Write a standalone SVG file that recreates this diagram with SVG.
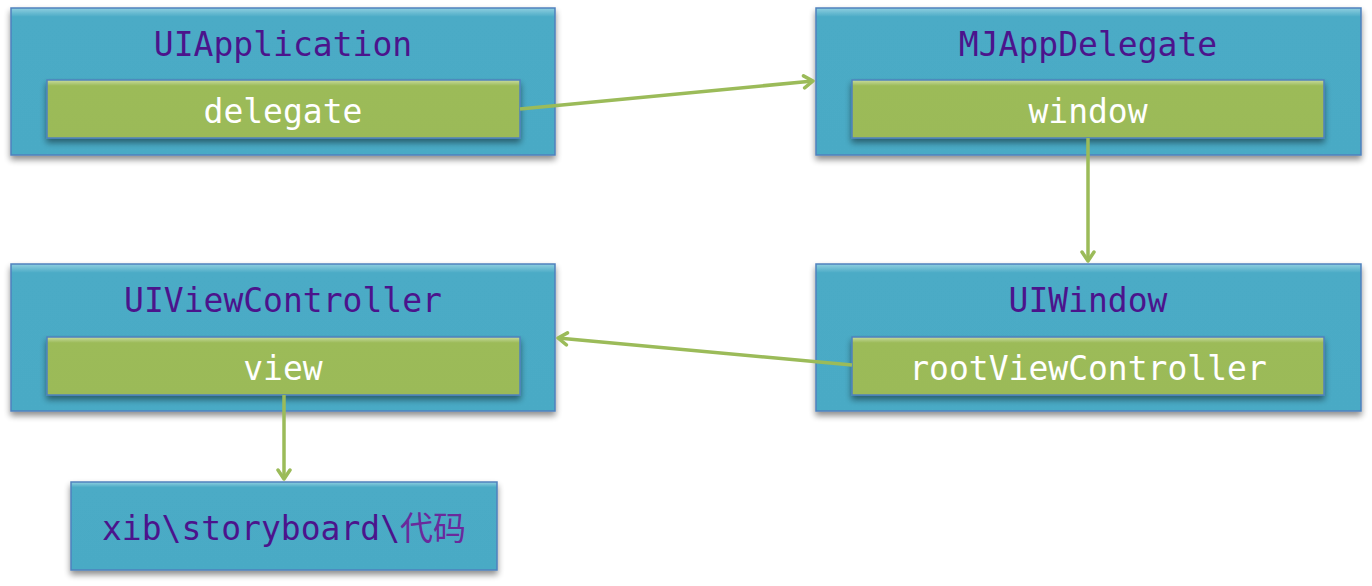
<svg xmlns="http://www.w3.org/2000/svg" width="1372" height="586" viewBox="0 0 1372 586">
<defs>
<linearGradient id="gOuter" x1="0" y1="0" x2="0" y2="1">
<stop offset="0" stop-color="#8fcfe0"/><stop offset="0.06" stop-color="#4babc6"/><stop offset="1" stop-color="#4aaac5"/>
</linearGradient>
<linearGradient id="gInner" x1="0" y1="0" x2="0" y2="1">
<stop offset="0" stop-color="#c9dca0"/><stop offset="0.1" stop-color="#9cbb59"/><stop offset="1" stop-color="#9bba58"/>
</linearGradient>
<filter id="sh" x="-5%" y="-10%" width="110%" height="130%">
<feGaussianBlur in="SourceAlpha" stdDeviation="3"/>
<feOffset dx="0" dy="4" result="b"/>
<feComponentTransfer><feFuncA type="linear" slope="0.45"/></feComponentTransfer>
<feMerge><feMergeNode/><feMergeNode in="SourceGraphic"/></feMerge>
</filter>
<marker id="arr" markerWidth="16" markerHeight="16" refX="13" refY="8" orient="auto" markerUnits="userSpaceOnUse" viewBox="0 0 16 16">
<path d="M4,2 L13,8 L4,14" fill="none" stroke="#9bbb59" stroke-width="3.5" stroke-linecap="round" stroke-linejoin="round"/>
</marker>
</defs>
<style>
.outer{fill:url(#gOuter);stroke:#4f81bd;stroke-width:1.5;filter:url(#sh)}
.inner{fill:url(#gInner);stroke:#4f81bd;stroke-width:1.5;filter:url(#sh)}
.title{font-family:"DejaVu Sans Mono","Noto Sans CJK SC",monospace;font-size:33px;fill:#4b148c;text-anchor:middle}
.field{font-family:"DejaVu Sans Mono",monospace;font-size:33px;fill:#ffffff;text-anchor:middle}
.conn{stroke:#9bbb59;stroke-width:3.5;fill:none;marker-end:url(#arr)}
</style>
<rect width="1372" height="586" fill="#ffffff"/>
<g id="node-uiapplication">
<rect class="outer" x="11" y="8" width="544" height="147"/>
<text class="title" x="283" y="56">UIApplication</text>
<rect class="inner" x="47" y="80" width="473" height="58"/>
<text class="field" x="283" y="123">delegate</text>
</g>
<g id="node-mjappdelegate">
<rect class="outer" x="816" y="8" width="545" height="147"/>
<text class="title" x="1088" y="56">MJAppDelegate</text>
<rect class="inner" x="852" y="80" width="472" height="58"/>
<text class="field" x="1088" y="123">window</text>
</g>
<g id="node-uiviewcontroller">
<rect class="outer" x="11" y="264" width="544" height="147"/>
<text class="title" x="283" y="312">UIViewController</text>
<rect class="inner" x="47" y="337" width="473" height="58"/>
<text class="field" x="283" y="380">view</text>
</g>
<g id="node-uiwindow">
<rect class="outer" x="816" y="264" width="545" height="147"/>
<text class="title" x="1088" y="312">UIWindow</text>
<rect class="inner" x="852" y="337" width="472" height="58"/>
<text class="field" x="1088" y="380">rootViewController</text>
</g>
<g id="node-xib">
<rect class="outer" x="71" y="482" width="426" height="88"/>
<text class="title" x="284" y="540">xib\storyboard\<tspan fill="#6a2a9c">代码</tspan></text>
</g>
<g id="connectors">
<line class="conn" x1="520" y1="109" x2="813" y2="81"/>
<line class="conn" x1="1088" y1="138" x2="1088" y2="261"/>
<line class="conn" x1="852" y1="365" x2="558" y2="338"/>
<line class="conn" x1="284" y1="395" x2="284" y2="479"/>
</g>
</svg>
